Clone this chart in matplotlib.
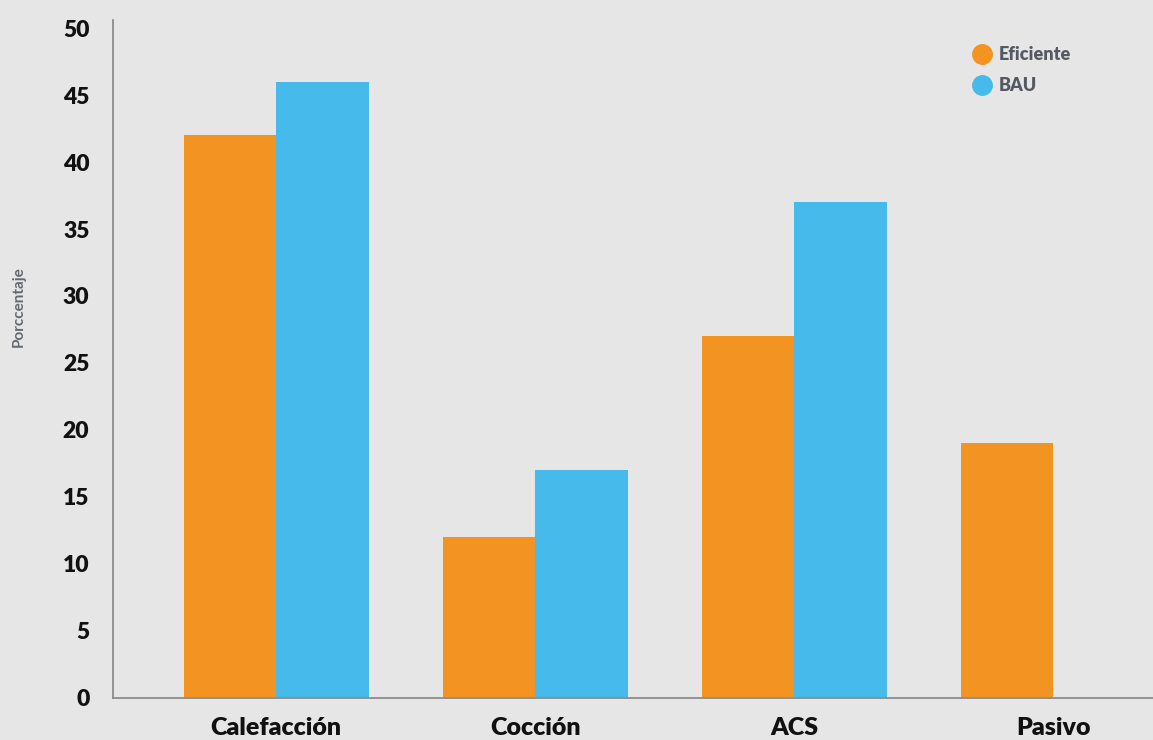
import matplotlib
matplotlib.use("Agg")
import matplotlib.pyplot as plt
from matplotlib.lines import Line2D
import numpy as np

categories = ["Calefacción", "Cocción", "ACS", "Pasivo"]
eficiente = [42, 12, 27, 19]
bau = [46, 17, 37, 0]
series_names = ["Eficiente", "BAU"]
yticks = [0, 5, 10, 15, 20, 25, 30, 35, 40, 45, 50]

ORANGE = "#F39422"
BLUE = "#46BAEA"
BG = "#E6E6E6"

plt.rcParams["font.family"] = ["Lato", "DejaVu Sans"]

fig = plt.figure(figsize=(11.53, 7.40), dpi=100, facecolor=BG)
ax = fig.add_axes([0.098, 0.0568, 0.902, 0.9162], facecolor=BG)

x = np.arange(len(categories))
w = 0.357
ax.bar(x - w / 2, eficiente, width=w, color=ORANGE, zorder=2)
ax.bar(x + w / 2, bau, width=w, color=BLUE, zorder=2)

ax.set_xlim(-0.63, 3.386)
ax.set_ylim(0, 50.6)
ax.set_yticks(yticks)
ax.set_yticklabels([str(t) for t in yticks], fontsize=16.5, fontweight="heavy", color="#111111")
ax.set_xticks(x)
ax.set_xticklabels(categories, fontsize=18, fontweight="heavy", color="#111111")
ax.tick_params(axis="y", length=0, pad=17)
ax.tick_params(axis="x", length=0, pad=14)

for s in ["top", "right"]:
    ax.spines[s].set_visible(False)
for s in ["left", "bottom"]:
    ax.spines[s].set_color("#8C8C8C")
    ax.spines[s].set_linewidth(1.3)

fig.text(0.016, 0.585, "Porccentaje", rotation=90, ha="center", va="center",
         fontsize=11, color="#666870", fontweight="bold")

handles = [Line2D([], [], marker="o", linestyle="", markersize=14, color=c)
           for c in (ORANGE, BLUE)]
leg = ax.legend(handles, series_names, loc="upper left",
                bbox_to_anchor=(0.81, 0.985), frameon=False,
                handletextpad=0.3, labelspacing=0.75, handlelength=1.2,
                prop={"family": ["Lato", "DejaVu Sans"], "weight": "heavy", "size": 13})
for t in leg.get_texts():
    t.set_color("#555A62")

fig.savefig("out.png", dpi=100, facecolor=BG)
